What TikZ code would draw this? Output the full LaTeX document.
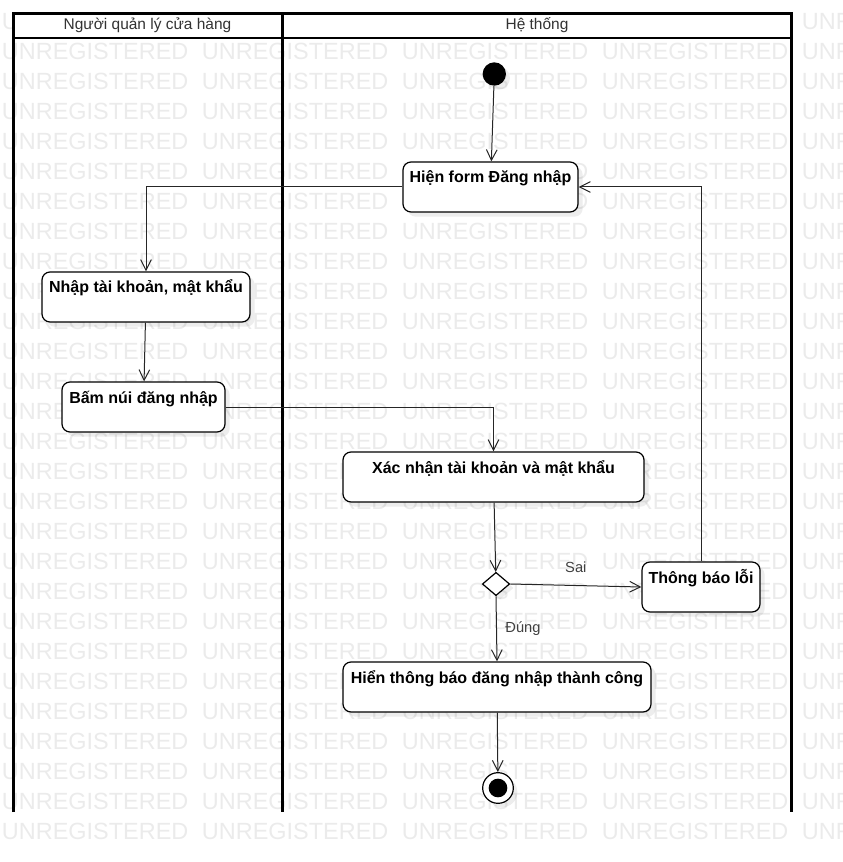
\documentclass[tikz,border=0pt]{standalone}
\usepackage{fontspec}
\setmainfont{Liberation Sans}
\usepackage{tikz}
\usetikzlibrary{arrows.meta,shapes.geometric,shadows}

\tikzset{
	wm/.style={text=black!8, font=\fontsize{17.6pt}{20pt}\selectfont, inner sep=0pt, anchor=base west},
	lane/.style={line width=2.2pt, black},
	act/.style={draw, line width=0.9pt, rounded corners=6pt, fill=white, font=\fontsize{12pt}{14pt}\selectfont\bfseries,
		inner xsep=0pt, inner ysep=0pt, text height=15.75pt, text depth=21.75pt,
		drop shadow={shadow xshift=3.5pt, shadow yshift=-3.5pt, fill=black, opacity=0.07}},
	flow/.style={->, line width=0.75pt, black!85},
	guard/.style={font=\fontsize{11pt}{13pt}\selectfont, text=black!75}
}

\begin{document}
\begin{tikzpicture}[x=0.75pt, y=-0.75pt, >={Straight Barb[length=8pt,width=8pt]}]
	\useasboundingbox (0,0) rectangle (842,862);

	% Watermark rows
	\foreach \r in {0,...,27}
		\foreach \c in {0,...,4}
			\node[wm] at (1.7+200*\c, 29.4+30*\r) {UNREGISTERED};

	% Draw lanes
	%Header
	\fill[white] (13.5,13.3) rectangle (791.5,37.8);
	\node at (147.5,25) [text=black!80, font=\fontsize{11.6pt}{14pt}\selectfont] (hdrA) {Người quản lý cửa hàng};
	\node at (537,25) [text=black!80, font=\fontsize{11.6pt}{14pt}\selectfont] (hdrB) {Hệ thống};
	\draw[line width=1.6pt] (13.5,37.8) -- (791.5,37.8);
	%Borders
	\draw[lane] (13.5,812) -- (13.5,13.3) -- (791.5,13.3) -- (791.5,812);
	\draw[lane] (282.5,13.3) -- (282.5,812);

	% Start and end
	\node at (494.3,74) [circle, fill=black, minimum size=17.5pt, inner sep=0pt,
		drop shadow={shadow xshift=3pt, shadow yshift=-3pt, fill=black, opacity=0.07}] (start) {};
	\node at (498,788) [circle, draw, fill=white, line width=0.9pt, minimum size=23pt, inner sep=0pt,
		drop shadow={shadow xshift=3pt, shadow yshift=-3pt, fill=black, opacity=0.07}] (stop) {};
	\fill[black] (stop.center) circle [radius=7pt];

	% Actions
	\node at (490.5,187) [act, minimum width=131.25pt] (form) {Hiện form Đăng nhập};
	\node at (146,297) [act, minimum width=156pt] (nhap) {Nhập tài khoản, mật khẩu};
	\node at (143.5,407) [act, minimum width=122.25pt] (bam) {Bấm núi đăng nhập};
	\node at (493.5,477) [act, minimum width=225.75pt] (xacnhan) {Xác nhận tài khoản và mật khẩu};
	\node at (701,587) [act, minimum width=88.5pt] (loi) {Thông báo lỗi};
	\node at (497,687) [act, minimum width=231pt] (thanhcong) {Hiển thông báo đăng nhập thành công};

	% Decision
	\node at (496,584) [diamond, draw, fill=white, line width=0.9pt, inner sep=0pt,
		minimum width=20.5pt, minimum height=17.5pt,
		drop shadow={shadow xshift=3pt, shadow yshift=-3pt, fill=black, opacity=0.07}] (chon) {};

	% Flows
	\draw[flow] (start) -- (form);
	\draw[flow] (form.west) -| (nhap.north);
	\draw[flow] (nhap) -- (bam);
	\draw[flow] (bam.east) -| (xacnhan.north);
	\draw[flow] (xacnhan) -- (chon);
	\draw[flow] (chon.east) -- node[guard, midway, above=6pt] {Sai} (loi.west);
	\draw[flow] (loi.north) |- (form.east);
	\draw[flow] (chon.south) -- node[guard, midway, right=3pt] {Đúng} (thanhcong.north);
	\draw[flow] (thanhcong) -- (stop);

\end{tikzpicture}
\end{document}
